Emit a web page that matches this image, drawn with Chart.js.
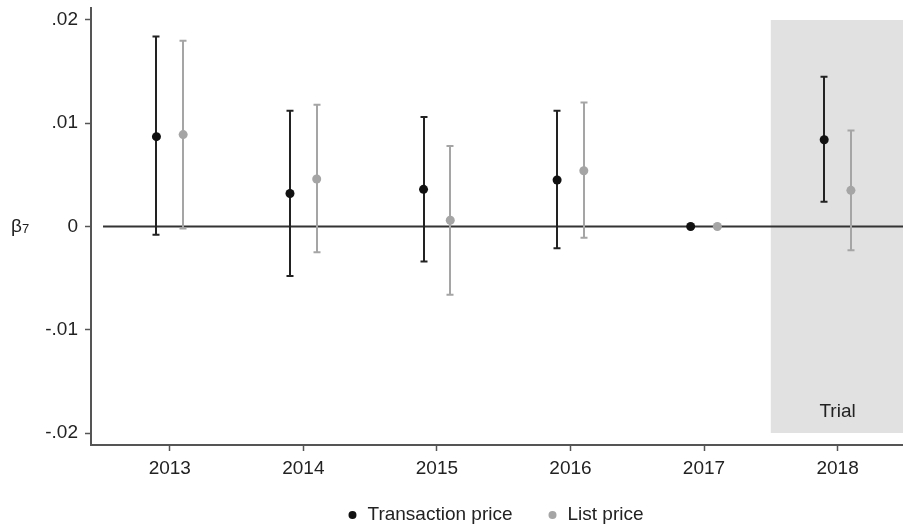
<!DOCTYPE html>
<html>
<head>
<meta charset="utf-8">
<script src="https://cdn.jsdelivr.net/npm/chart.js@4.4.0/dist/chart.umd.min.js"></script>
<style>
  html, body { margin: 0; padding: 0; background: #fff; }
  #wrap { width: 903px; height: 528px; }
</style>
</head>
<body>
<div id="wrap"><canvas id="chart" width="903" height="528"></canvas></div>
<script>
// categories
const years = [2013, 2014, 2015, 2016, 2017, 2018];
const yTicks = [-0.02, -0.01, 0, 0.01, 0.02];

// transaction price: estimate and 95% interval
const transEst = [0.0087, 0.0032, 0.0036, 0.0045, 0, 0.0084];
const transLo  = [-0.0008, -0.0048, -0.0034, -0.0021, null, 0.0024];
const transHi  = [0.0184, 0.0112, 0.0106, 0.0112, null, 0.0145];

// list price: estimate and 95% interval
const listEst = [0.0089, 0.0046, 0.0006, 0.0054, 0, 0.0035];
const listLo  = [-0.0002, -0.0025, -0.0066, -0.0011, null, -0.0023];
const listHi  = [0.0180, 0.0118, 0.0078, 0.0120, null, 0.0093];

const trialStart = 2017.5;
const shift = 0.1;
const FONT = '"Liberation Sans", Arial, Helvetica, sans-serif';
const TEXT = '#222';
const AXIS = '#555';
const BLACK = '#111';
const GREY = '#a5a5a5';

function pts(est, dx) {
    return years.map(function(y, i) { return { x: y + dx, y: est[i] }; });
}

function fmtTick(v) {
    if (Math.abs(v) < 1e-9) return '0';
    return v.toFixed(2).replace('0.', '.');
}

const decor = {
    id: 'decor',
    beforeDatasetsDraw: function(chart) {
        const ctx = chart.ctx;
        const x = chart.scales.x, y = chart.scales.y;
        const area = chart.chartArea;

        // trial shading
        const sx = x.getPixelForValue(trialStart);
        const top = y.getPixelForValue(0.02), bot = y.getPixelForValue(-0.02);
        ctx.save();
        ctx.fillStyle = '#e1e1e1';
        ctx.fillRect(sx, top, area.right - sx, bot - top);
        ctx.fillStyle = TEXT;
        ctx.font = '19px ' + FONT;
        ctx.textAlign = 'center';
        ctx.textBaseline = 'middle';
        ctx.fillText('Trial', x.getPixelForValue(2018), bot - 21);

        // zero line
        const zy = y.getPixelForValue(0);
        ctx.strokeStyle = '#333';
        ctx.lineWidth = 2;
        ctx.beginPath();
        ctx.moveTo(x.getPixelForValue(2012.5), zy);
        ctx.lineTo(area.right, zy);
        ctx.stroke();

        // error bars
        function bars(lo, hi, dx, color) {
            ctx.strokeStyle = color;
            ctx.lineWidth = 2;
            years.forEach(function(yr, i) {
                if (lo[i] === null) return;
                const px = Math.round(x.getPixelForValue(yr + dx));
                const p1 = y.getPixelForValue(lo[i]);
                const p2 = y.getPixelForValue(hi[i]);
                ctx.beginPath();
                ctx.moveTo(px, p1); ctx.lineTo(px, p2);
                ctx.moveTo(px - 3.5, p1); ctx.lineTo(px + 3.5, p1);
                ctx.moveTo(px - 3.5, p2); ctx.lineTo(px + 3.5, p2);
                ctx.stroke();
            });
        }
        bars(listLo, listHi, shift, GREY);
        bars(transLo, transHi, -shift, '#222');
        ctx.restore();
    },
    afterDraw: function(chart) {
        const ctx = chart.ctx;
        const area = chart.chartArea;
        const y = chart.scales.y;
        ctx.save();
        ctx.fillStyle = TEXT;
        ctx.textBaseline = 'middle';
        ctx.textAlign = 'left';
        const zy = y.getPixelForValue(0);
        ctx.font = '19px ' + FONT;
        ctx.fillText('β', 11, zy);
        ctx.font = '13px ' + FONT;
        ctx.fillText('7', 22, zy + 3);

        // legend
        ctx.font = '19px ' + FONT;
        const items = [
            { label: 'Transaction price', color: BLACK },
            { label: 'List price', color: GREY }
        ];
        const gapDot = 13, gapItem = 38;
        let total = 0;
        items.forEach(function(it, i) {
            it.w = ctx.measureText(it.label).width;
            total += 4 + gapDot + it.w + (i < items.length - 1 ? gapItem : 0);
        });
        let cx = (area.left + area.right) / 2 - total / 2;
        const ly = 515;
        items.forEach(function(it) {
            ctx.fillStyle = it.color;
            ctx.beginPath();
            ctx.arc(cx + 2, ly, 4, 0, Math.PI * 2);
            ctx.fill();
            ctx.fillStyle = TEXT;
            ctx.fillText(it.label, cx + 4 + gapDot, ly);
            cx += 4 + gapDot + it.w + gapItem;
        });
        ctx.restore();
    }
};

new Chart(document.getElementById('chart'), {
    type: 'scatter',
    data: {
        datasets: [
            {
                label: 'Transaction price',
                data: pts(transEst, -shift),
                backgroundColor: BLACK,
                borderColor: BLACK,
                pointRadius: 4.5,
                pointHoverRadius: 4.5,
                borderWidth: 0
            },
            {
                label: 'List price',
                data: pts(listEst, shift),
                backgroundColor: GREY,
                borderColor: GREY,
                pointRadius: 4.5,
                pointHoverRadius: 4.5,
                borderWidth: 0
            }
        ]
    },
    options: {
        responsive: false,
        animation: false,
        layout: { autoPadding: false, padding: { top: 8, right: 0, left: 0, bottom: 0 } },
        plugins: {
            legend: { display: false },
            tooltip: { enabled: false }
        },
        scales: {
            x: {
                type: 'linear',
                min: 2012.41,
                max: 2018.49,
                afterBuildTicks: function(scale) {
                    scale.ticks = years.map(function(v) { return { value: v }; });
                },
                afterFit: function(scale) {
                    scale.height = 83;
                    scale.paddingLeft = 0;
                    scale.paddingRight = 0;
                },
                border: { display: true, color: AXIS, width: 2 },
                grid: { drawOnChartArea: false, drawTicks: true, tickLength: 6, color: AXIS, tickWidth: 1.5 },
                ticks: {
                    color: TEXT,
                    padding: 6,
                    maxRotation: 0,
                    font: { family: FONT, size: 19 },
                    callback: function(v) { return String(v); }
                }
            },
            y: {
                min: -0.02116,
                max: 0.02116,
                afterBuildTicks: function(scale) {
                    scale.ticks = yTicks.map(function(v) { return { value: v }; });
                },
                afterFit: function(scale) {
                    scale.width = 91;
                    scale.paddingTop = 0;
                    scale.paddingBottom = 0;
                },
                border: { display: true, color: AXIS, width: 2 },
                grid: { drawOnChartArea: false, drawTicks: true, tickLength: 6, color: AXIS, tickWidth: 1.5 },
                ticks: {
                    color: TEXT,
                    padding: 7,
                    font: { family: FONT, size: 19 },
                    callback: function(v) { return fmtTick(v); }
                }
            }
        }
    },
    plugins: [decor]
});
</script>
</body>
</html>
